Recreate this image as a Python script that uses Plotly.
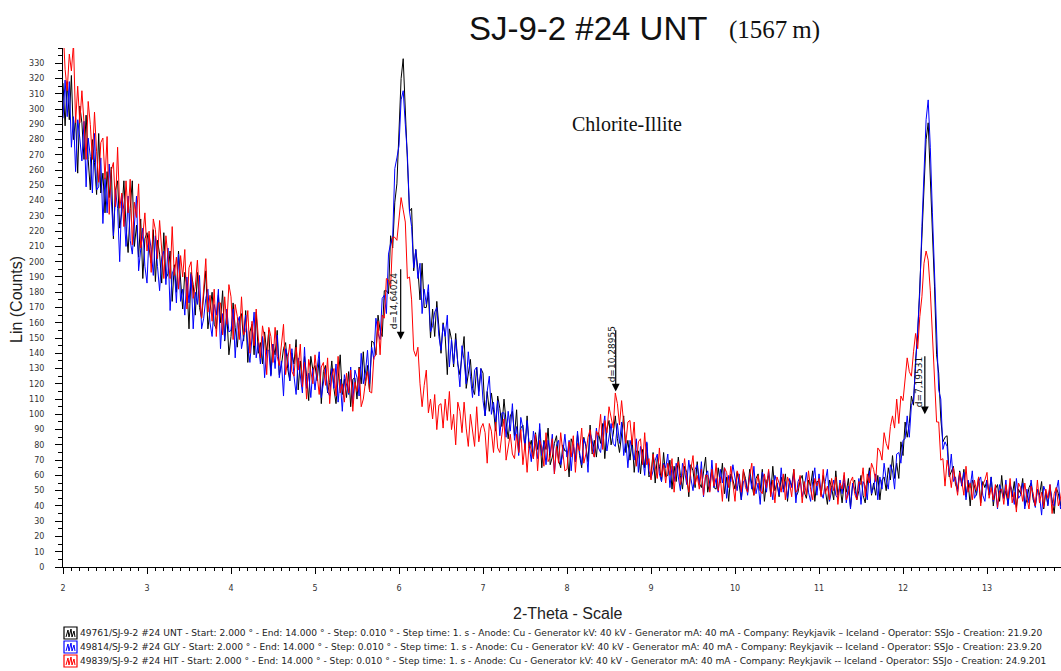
import plotly.graph_objects as go

# Scan grid (degrees 2-theta); intensities listed one row per degree, 40 readings per row
start_2theta = 2.0
step_2theta = 0.025

unt_rows = [
    [317, 289, 318, 293, 322, 280, 294, 258, 302, 291, 267, 296, 267, 247, 280, 265, 244, 284, 245, 258,
     232, 259, 242, 262, 215, 247, 253, 222, 233, 253, 223, 206, 235, 253, 210, 224, 203, 228, 189, 215],
    [219, 209, 199, 221, 187, 214, 205, 186, 219, 189, 192, 207, 174, 198, 180, 207, 185, 169, 193, 185,
     156, 193, 185, 165, 193, 170, 163, 181, 194, 156, 169, 180, 159, 156, 178, 160, 181, 148, 166, 139],
    [151, 173, 157, 144, 163, 166, 148, 168, 134, 154, 159, 139, 167, 140, 147, 133, 154, 140, 155, 126,
     146, 139, 155, 126, 132, 143, 147, 130, 122, 140, 133, 149, 116, 135, 120, 138, 125, 109, 138, 129],
    [132, 122, 136, 107, 128, 132, 114, 121, 135, 117, 107, 126, 139, 113, 123, 111, 128, 105, 123, 124,
     110, 131, 120, 141, 119, 132, 115, 148, 147, 139, 165, 155, 151, 181, 181, 179, 217, 209, 239, 251],
    [285, 320, 333, 298, 266, 233, 235, 194, 208, 195, 175, 199, 170, 170, 180, 150, 169, 151, 174, 154,
     140, 160, 151, 126, 156, 149, 131, 153, 133, 126, 141, 151, 117, 127, 136, 117, 113, 131, 115, 130],
    [127, 99, 115, 102, 114, 103, 89, 112, 104, 92, 110, 95, 84, 99, 102, 86, 103, 75, 91, 93,
     77, 99, 78, 83, 71, 88, 77, 90, 65, 83, 77, 91, 67, 72, 81, 86, 70, 65, 80, 76],
    [76, 59, 84, 80, 69, 87, 73, 65, 85, 79, 69, 93, 74, 83, 72, 88, 81, 94, 71, 90,
     96, 80, 87, 99, 84, 75, 89, 99, 75, 83, 70, 84, 62, 76, 76, 61, 77, 65, 81, 59],
    [61, 75, 55, 72, 66, 56, 75, 59, 60, 70, 51, 66, 56, 72, 60, 51, 66, 62, 46, 67,
     63, 52, 69, 55, 52, 63, 72, 49, 57, 64, 52, 51, 65, 55, 68, 48, 59, 43, 61, 57],
    [51, 62, 54, 44, 63, 58, 49, 64, 54, 47, 58, 61, 50, 64, 43, 56, 60, 48, 66, 50,
     55, 46, 59, 51, 61, 43, 57, 53, 64, 46, 49, 57, 60, 49, 45, 57, 53, 63, 43, 56],
    [56, 47, 60, 49, 41, 57, 52, 44, 63, 47, 53, 42, 55, 49, 58, 39, 54, 57, 44, 50,
     60, 47, 42, 55, 65, 47, 55, 47, 60, 44, 57, 59, 50, 65, 57, 73, 58, 68, 58, 82],
    [73, 95, 85, 94, 112, 106, 136, 152, 187, 215, 246, 280, 291, 256, 228, 184, 139, 127, 97, 82,
     85, 86, 59, 62, 66, 54, 51, 63, 53, 64, 46, 56, 40, 57, 53, 47, 59, 42, 56, 52],
    [57, 47, 59, 40, 51, 54, 43, 60, 45, 50, 41, 54, 46, 56, 39, 51, 48, 58, 40, 44,
     52, 55, 44, 40, 51, 47, 56, 38, 49, 41, 52, 44, 35, 52, 48, 40, 53, 44, 36, 48, 46],
]

gly_rows = [
    [294, 319, 295, 318, 275, 295, 259, 293, 281, 266, 292, 249, 281, 269, 245, 284, 247, 249, 268, 225,
     255, 232, 264, 236, 217, 247, 235, 200, 244, 234, 210, 243, 214, 205, 227, 243, 194, 210, 222, 197],
    [186, 218, 208, 191, 217, 197, 181, 203, 207, 185, 209, 168, 192, 196, 173, 205, 174, 182, 165, 190,
     173, 192, 156, 180, 172, 191, 156, 163, 176, 182, 160, 151, 172, 165, 182, 143, 166, 149, 169, 154],
    [155, 169, 137, 160, 164, 143, 151, 165, 145, 134, 154, 167, 137, 147, 133, 151, 124, 142, 142, 125,
     146, 130, 152, 124, 135, 112, 143, 138, 122, 143, 125, 113, 137, 127, 114, 144, 117, 127, 111, 130],
    [116, 130, 141, 111, 122, 130, 115, 112, 130, 117, 133, 108, 123, 102, 126, 120, 113, 131, 107, 129,
     124, 112, 140, 120, 127, 142, 120, 144, 136, 163, 153, 149, 176, 178, 166, 205, 212, 216, 261, 268],
    [276, 306, 312, 290, 270, 233, 223, 196, 208, 189, 199, 166, 182, 172, 185, 154, 158, 167, 170, 151,
     142, 159, 151, 165, 131, 149, 133, 149, 135, 118, 145, 135, 120, 141, 125, 111, 129, 131, 112, 130],
    [109, 99, 115, 125, 100, 108, 95, 109, 86, 101, 101, 85, 102, 89, 107, 83, 92, 73, 98, 91,
     79, 96, 80, 69, 89, 81, 71, 94, 73, 82, 67, 83, 74, 87, 61, 80, 83, 67, 74, 87],
    [72, 83, 63, 80, 69, 89, 75, 67, 84, 80, 62, 88, 83, 72, 91, 78, 75, 89, 99, 76,
     85, 94, 81, 79, 94, 81, 95, 73, 83, 65, 83, 77, 70, 84, 62, 79, 73, 60, 82, 63],
    [58, 63, 70, 74, 61, 56, 68, 65, 74, 52, 66, 56, 68, 59, 50, 68, 63, 54, 70, 58,
     50, 64, 67, 54, 69, 46, 60, 63, 50, 70, 52, 58, 49, 64, 55, 65, 45, 60, 56, 67],
    [58, 50, 61, 44, 56, 57, 47, 61, 51, 66, 48, 55, 41, 62, 58, 49, 63, 52, 44, 60,
     55, 47, 65, 49, 56, 45, 58, 52, 61, 42, 56, 59, 46, 52, 62, 49, 43, 56, 65, 47],
    [61, 49, 45, 56, 64, 43, 51, 57, 47, 45, 57, 48, 60, 42, 53, 38, 55, 51, 46, 58,
     41, 56, 53, 44, 63, 48, 52, 61, 44, 59, 51, 68, 57, 51, 67, 63, 51, 74, 75, 68],
    [83, 84, 99, 85, 106, 109, 133, 154, 180, 223, 261, 293, 306, 275, 232, 192, 156, 116, 110, 77,
     82, 79, 60, 74, 56, 59, 49, 62, 53, 62, 44, 57, 52, 63, 45, 48, 56, 59, 47, 43],
    [57, 48, 59, 43, 52, 38, 54, 50, 45, 57, 40, 54, 50, 41, 58, 45, 47, 55, 38, 51,
     42, 57, 46, 39, 51, 47, 34, 53, 49, 40, 54, 42, 40, 50, 57, 38, 45, 51, 40, 39, 41],
]

hit_rows = [
    [354, 326, 312, 336, 325, 343, 291, 315, 291, 312, 291, 267, 305, 290, 267, 298, 272, 252, 278, 281,
     254, 282, 231, 260, 265, 236, 275, 235, 245, 223, 253, 232, 254, 211, 239, 229, 251, 209, 217, 232],
    [207, 220, 193, 228, 221, 202, 227, 204, 189, 217, 205, 189, 223, 191, 203, 182, 204, 190, 208, 169,
     196, 200, 176, 184, 201, 176, 163, 186, 202, 167, 178, 161, 182, 151, 173, 173, 152, 177, 159, 185],
    [177, 149, 172, 164, 149, 177, 152, 155, 168, 140, 161, 145, 169, 150, 137, 158, 150, 126, 157, 151,
     134, 157, 138, 132, 148, 159, 126, 137, 146, 128, 125, 144, 129, 146, 118, 134, 110, 136, 128, 120],
    [139, 125, 113, 131, 134, 119, 137, 107, 125, 130, 112, 138, 114, 120, 108, 127, 114, 129, 102, 121,
     115, 130, 105, 110, 121, 128, 115, 114, 137, 139, 161, 139, 165, 163, 189, 188, 183, 216, 216, 214],
    [228, 242, 234, 226, 189, 190, 175, 142, 138, 144, 120, 105, 119, 129, 101, 110, 97, 113, 90, 106,
     107, 91, 110, 96, 115, 90, 100, 80, 108, 102, 88, 108, 91, 79, 100, 91, 79, 105, 82, 91],
    [94, 88, 68, 94, 89, 75, 95, 78, 75, 87, 97, 70, 80, 87, 74, 71, 87, 75, 90, 67,
     81, 62, 82, 77, 71, 87, 63, 83, 78, 66, 88, 69, 72, 84, 61, 79, 68, 88, 73, 63],
    [64, 82, 72, 86, 62, 81, 76, 91, 68, 74, 85, 90, 76, 72, 89, 86, 100, 77, 96, 88,
     105, 99, 91, 114, 107, 93, 109, 94, 81, 95, 96, 80, 95, 66, 82, 84, 67, 88, 67, 71],
    [57, 74, 67, 58, 78, 59, 67, 55, 68, 60, 71, 49, 65, 69, 54, 60, 71, 57, 49, 64,
     73, 54, 60, 51, 64, 47, 60, 60, 49, 64, 53, 68, 50, 59, 43, 65, 62, 52, 66, 54],
    [43, 63, 59, 49, 64, 52, 49, 60, 68, 47, 54, 60, 50, 48, 61, 52, 64, 46, 57, 42,
     59, 55, 49, 61, 44, 59, 55, 46, 64, 49, 51, 60, 42, 56, 47, 63, 51, 44, 58, 53],
    [58, 46, 64, 48, 53, 44, 58, 50, 59, 41, 55, 51, 62, 44, 48, 56, 59, 48, 44, 56,
     54, 65, 46, 61, 55, 68, 64, 56, 78, 76, 70, 88, 81, 77, 92, 99, 91, 110, 94, 112],
    [109, 122, 137, 128, 125, 141, 153, 143, 164, 177, 199, 207, 201, 181, 151, 128, 95, 95, 70, 71,
     53, 70, 63, 52, 65, 56, 47, 62, 56, 47, 66, 49, 55, 44, 57, 50, 59, 40, 54, 57],
    [62, 45, 52, 44, 54, 39, 50, 51, 41, 54, 45, 58, 42, 49, 36, 55, 52, 43, 55, 45,
     38, 53, 48, 40, 57, 42, 49, 39, 51, 45, 54, 35, 48, 52, 40, 45, 54, 42, 36, 48, 46],
]

for label, rows in (("UNT", unt_rows), ("GLY", gly_rows), ("HIT", hit_rows)):
    for r, row in enumerate(rows):
        expected = 41 if r == len(rows) - 1 else 40
        if len(row) != expected:
            raise ValueError(f"{label} row {r} has {len(row)} readings")

unt_counts = [v for row in unt_rows for v in row]
gly_counts = [v for row in gly_rows for v in row]
hit_counts = [v for row in hit_rows for v in row]
two_theta = [round(start_2theta + step_2theta * i, 3) for i in range(len(unt_counts))]

# Peak markers: position (2-theta), arrow tail/tip (counts), label and its anchor
peak_2theta = [6.02, 8.58, 12.26]
peak_arrow_top = [196, 156, 139]
peak_arrow_tip = [149, 115, 100]
peak_labels = ["d=14,64024", "d=10,28955", "d=7,19531"]
peak_label_pos = [(5.95, 174), (8.53, 139), (12.19, 121)]

# Scan descriptions shown under the plot
scan_colors = ["#000000", "#0000ff", "#ff0000"]
scan_texts = [
    "49761/SJ-9-2 #24 UNT - Start: 2.000 ° - End: 14.000 ° - Step: 0.010 ° - Step time: 1. s - Anode: Cu - "
    "Generator kV: 40 kV - Generator mA: 40 mA - Company: Reykjavik \u2013 Iceland - Operator: SSJo - Creation: 21.9.20",
    "49814/SJ-9-2 #24 GLY - Start: 2.000 ° - End: 14.000 ° - Step: 0.010 ° - Step time: 1. s - Anode: Cu - "
    "Generator kV: 40 kV - Generator mA: 40 mA - Company: Reykjavik -- Iceland - Operator: SSJo - Creation: 23.9.20",
    "49839/SJ-9-2 #24 HIT - Start: 2.000 ° - End: 14.000 ° - Step: 0.010 ° - Step time: 1. s - Anode: Cu - "
    "Generator kV: 40 kV - Generator mA: 40 mA - Company: Reykjavik -- Iceland - Operator: SSJo - Creation: 24.9.201",
]

W, H = 1061, 671
ML, MR, MT, MB = 63, 0, 48, 104
PW, PH = W - ML - MR, H - MT - MB


def px(x):
    return (x - ML) / PW


def py(y):
    return (H - MB - y) / PH


SANS = "Liberation Sans, Arial, sans-serif"
WIDE = "DejaVu Sans, Verdana, sans-serif"
SERIF = "Liberation Serif, Times New Roman, serif"

fig = go.Figure()
for name, counts, color in [("UNT", unt_counts, "#000000"),
                            ("GLY", gly_counts, "#0000ff"),
                            ("HIT", hit_counts, "#ff0000")]:
    fig.add_trace(go.Scatter(x=two_theta, y=counts, mode="lines", name=name,
                             line=dict(color=color, width=1), showlegend=False,
                             hoverinfo="x+y+name"))

annotations = []
# title
annotations.append(dict(xref="paper", yref="paper", x=px(467), y=py(28), xanchor="left", yanchor="middle",
                        text="SJ-9-2 #24 UNT", showarrow=False,
                        font=dict(family=SANS, size=33, color="#111")))
annotations.append(dict(xref="paper", yref="paper", x=px(727), y=py(30), xanchor="left", yanchor="middle",
                        text="(1567\u2009m)", showarrow=False,
                        font=dict(family=SERIF, size=25, color="#111")))
# mineral label
annotations.append(dict(x=8.71, y=290, xref="x", yref="y", text="Chlorite-Illite", showarrow=False,
                        font=dict(family=SERIF, size=20, color="#111")))
# axis titles
annotations.append(dict(xref="paper", yref="paper", x=px(16), y=py(300), xanchor="center", yanchor="middle",
                        text="Lin (Counts)", textangle=-90, showarrow=False,
                        font=dict(family=SANS, size=16, color="#222")))
annotations.append(dict(xref="paper", yref="paper", x=px(567), y=py(613), xanchor="center", yanchor="middle",
                        text="2-Theta - Scale", showarrow=False,
                        font=dict(family=SANS, size=16, color="#222")))

# peak arrows and d-spacing labels
for xp, top, tip, lab, (lx, ly) in zip(peak_2theta, peak_arrow_top, peak_arrow_tip, peak_labels, peak_label_pos):
    annotations.append(dict(x=xp, y=tip, ax=xp, ay=top, xref="x", yref="y", axref="x", ayref="y",
                            text="", showarrow=True, arrowhead=2, arrowsize=1.3, arrowwidth=1.2,
                            arrowcolor="#000"))
    annotations.append(dict(x=lx, y=ly, xref="x", yref="y", text=lab, textangle=-90, showarrow=False,
                            font=dict(family=WIDE, size=9, color="#111")))

# scan description lines with small coloured scan icons
shapes = []
row_y = [633, 647, 661]
for ry, col, txt in zip(row_y, scan_colors, scan_texts):
    annotations.append(dict(xref="paper", yref="paper", x=px(78), y=py(ry), xanchor="left", yanchor="middle",
                            text=txt, showarrow=False, font=dict(family=WIDE, size=9.1, color="#222")))
    shapes.append(dict(type="rect", xref="paper", yref="paper", x0=px(64), x1=px(77), y0=py(ry + 6),
                       y1=py(ry - 6), line=dict(color=col, width=1.2), fillcolor="white"))
    pts = [(66, ry + 4), (68, ry - 3), (69, ry + 4), (71, ry - 4), (72, ry + 4), (74, ry - 2), (75, ry + 4)]
    path = "M " + " L ".join(f"{px(a):.5f},{py(b):.5f}" for a, b in pts)
    shapes.append(dict(type="path", xref="paper", yref="paper", path=path,
                       line=dict(color=col, width=1)))

fig.update_layout(
    width=W, height=H,
    margin=dict(l=ML, r=MR, t=MT, b=MB),
    paper_bgcolor="white", plot_bgcolor="white",
    annotations=annotations, shapes=shapes,
    xaxis=dict(range=[2, 2 + PW / 84.0], showgrid=False, zeroline=False, showline=True,
               linecolor="#000", linewidth=1, ticks="outside", ticklen=6, tickcolor="#000",
               tickmode="linear", tick0=2, dtick=1, ticklabelstandoff=7,
               tickfont=dict(family=WIDE, size=8, color="#333"),
               minor=dict(ticks="outside", ticklen=3, tickcolor="#000", dtick=0.1, tick0=2)),
    yaxis=dict(range=[0, 340], showgrid=False, zeroline=False, showline=True,
               linecolor="#000", linewidth=1, ticks="outside", ticklen=7, tickcolor="#000",
               tickvals=list(range(0, 331, 10)), ticklabelstandoff=9,
               tickfont=dict(family=WIDE, size=8, color="#333"),
               minor=dict(ticks="outside", ticklen=4, tickcolor="#000", dtick=5, tick0=0)),
)

fig.write_html("out.html")
